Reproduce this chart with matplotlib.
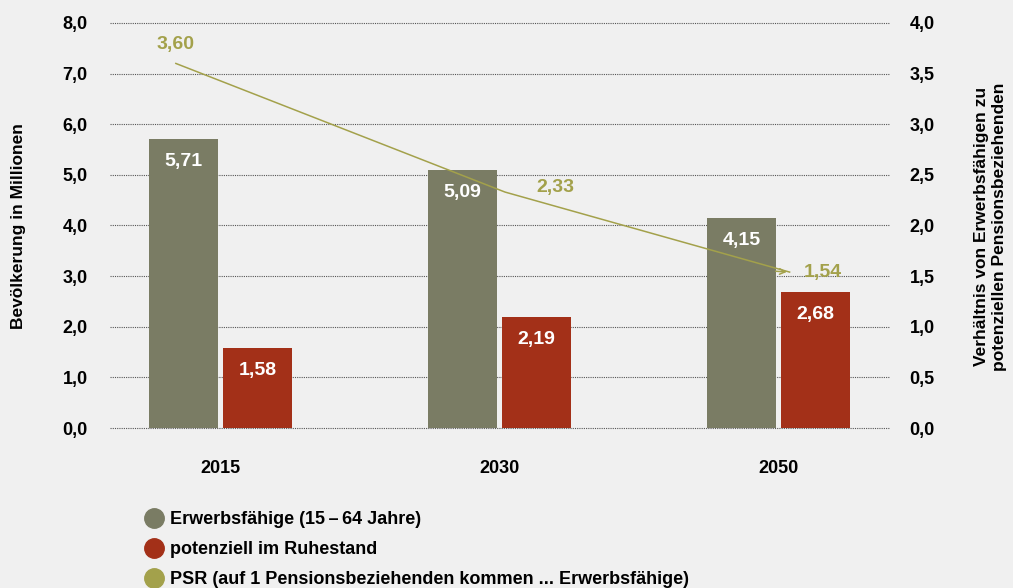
import matplotlib
matplotlib.use("Agg")
import matplotlib.pyplot as plt
from matplotlib.lines import Line2D
import numpy as np

plt.rcParams['font.family'] = ['Liberation Sans', 'DejaVu Sans']
plt.rcParams['font.weight'] = 'bold'

years = ['2015', '2030', '2050']
erwerbsfaehige = [5.71, 5.09, 4.15]
ruhestand = [1.58, 2.19, 2.68]
psr = [3.60, 2.33, 1.54]
legend_labels = ['Erwerbsfähige (15\u2009–\u200964 Jahre)',
                 'potenziell im Ruhestand',
                 'PSR (auf 1 Pensionsbeziehenden kommen ... Erwerbsfähige)']

c_green = '#7a7c64'
c_red = '#a33018'
c_olive = '#a3a14b'
bg = '#f0f0f0'

def fmt(v, nd):
    return f'{v:.{nd}f}'.replace('.', ',')

fig = plt.figure(figsize=(10.13, 5.88), dpi=100, facecolor=bg)
ax = fig.add_axes([0.1086, 0.272, 0.77, 0.689])
ax.set_facecolor(bg)
ax2 = ax.twinx()

x = np.arange(len(years))
w = 0.247
off = 0.133
b1 = ax.bar(x - off, erwerbsfaehige, w, color=c_green, zorder=3)
b2 = ax.bar(x + off, ruhestand, w, color=c_red, zorder=3)

for bars, vals in ((b1, erwerbsfaehige), (b2, ruhestand)):
    for r, v in zip(bars, vals):
        ax.annotate(fmt(v, 2), (r.get_x() + r.get_width() / 2, v),
                    xytext=(0, -16), textcoords='offset points',
                    ha='center', va='center', color='white',
                    fontsize=14, fontweight='bold', zorder=4)

ax.set_xlim(-0.396, 2.40)
ax.set_ylim(0, 8)
ax2.set_ylim(0, 4)
ax.set_yticks(np.arange(0, 8.1, 1))
ax.set_yticklabels([fmt(v, 1) for v in np.arange(0, 8.1, 1)])
ax2.set_yticks(np.arange(0, 4.01, 0.5))
ax2.set_yticklabels([fmt(v, 1) for v in np.arange(0, 4.01, 0.5)])
ax.set_xticks(x)
ax.set_xticklabels(years)
ax.grid(axis='y', linestyle=(0, (1, 1)), color='#555555', linewidth=0.8, zorder=0)
for gl in ax.get_ygridlines():
    gl.set_clip_on(False)
for a in (ax, ax2):
    for s in a.spines.values():
        s.set_visible(False)
    a.tick_params(length=0, labelsize=13)
ax.tick_params(axis='y', pad=16)
ax2.tick_params(axis='y', pad=14)
ax.tick_params(axis='x', pad=23)

# PSR line
lx = [x[0] - 0.16, x[1] + 0.02, x[2] + 0.04]
ax2.plot(lx, psr, color=c_olive, linewidth=1.1, zorder=5)
ax2.annotate('', xy=(lx[2], psr[2]), xytext=(lx[2] - 0.06, psr[2] + 0.01),
             arrowprops=dict(arrowstyle='->', color=c_olive, lw=1.1), zorder=5)
ax2.annotate(fmt(psr[0], 2), (lx[0], psr[0]), xytext=(0, 14), textcoords='offset points',
             ha='center', va='center', color=c_olive, fontsize=14, fontweight='bold')
ax2.annotate(fmt(psr[1], 2), (lx[1], psr[1]), xytext=(36, 3), textcoords='offset points',
             ha='center', va='center', color=c_olive, fontsize=14, fontweight='bold')
ax2.annotate(fmt(psr[2], 2), (lx[2], psr[2]), xytext=(24, 0), textcoords='offset points',
             ha='center', va='center', color=c_olive, fontsize=14, fontweight='bold')

fig.text(0.018, 0.615, 'Bevölkerung in Millionen', rotation=90, ha='center', va='center',
         fontsize=12.5, fontweight='bold')
fig.text(0.978, 0.615, 'Verhältnis von Erwerbsfähigen zu\npotenziellen Pensionsbeziehenden',
         rotation=90, ha='center', va='center', fontsize=12.5, fontweight='bold',
         linespacing=1.25)

handles = [Line2D([], [], marker='o', linestyle='', markersize=14, color=c)
           for c in (c_green, c_red, c_olive)]
fig.legend(handles, legend_labels, loc='upper left', bbox_to_anchor=(0.132, 0.146),
           frameon=False, fontsize=13, handletextpad=0.3, labelspacing=0.72,
           borderpad=0, handlelength=1.2)

fig.savefig('out.png', dpi=100, facecolor=bg)
